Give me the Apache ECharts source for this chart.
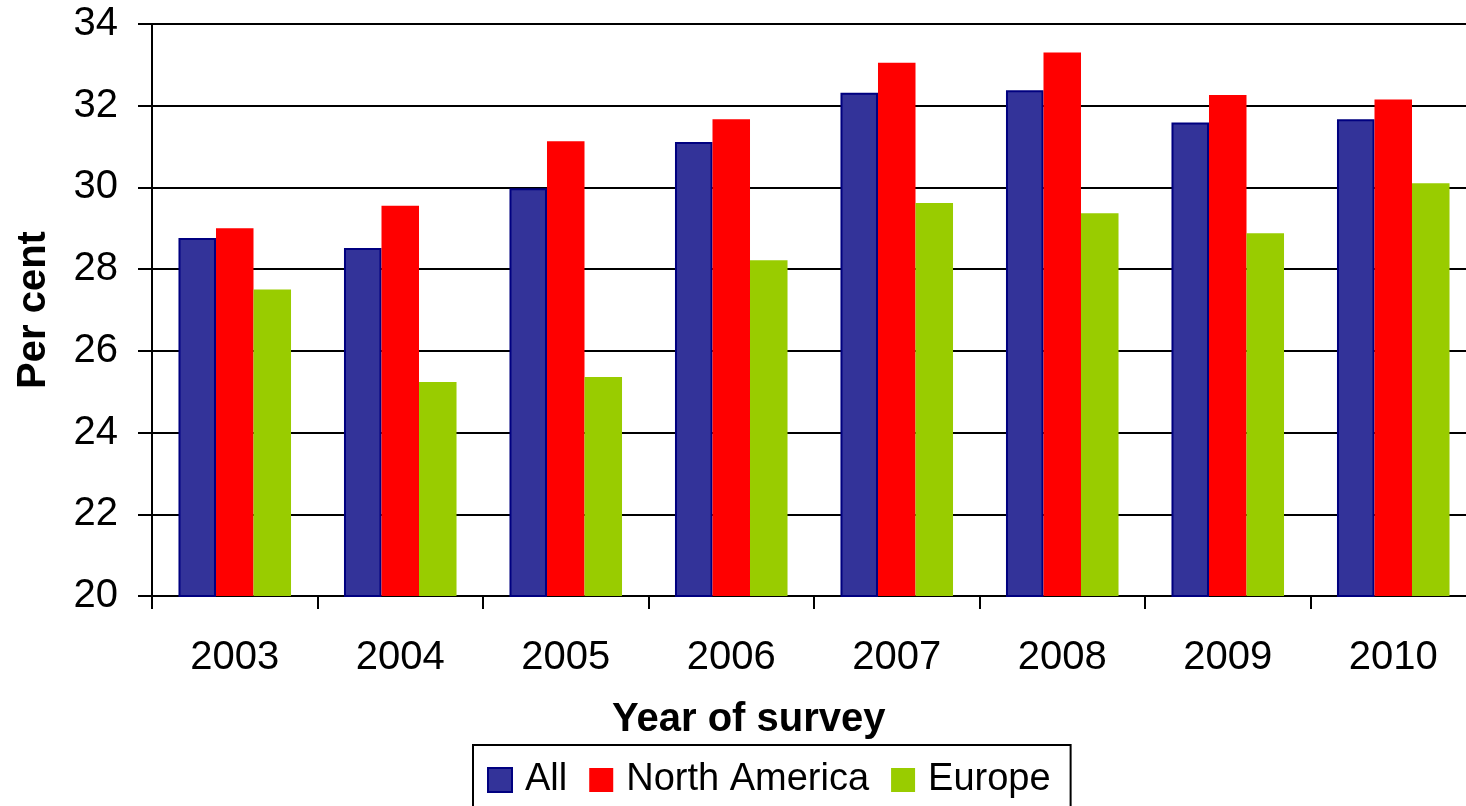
<!DOCTYPE html>
<html>
<head>
<meta charset="utf-8">
<title>Year of survey</title>
<script src="https://cdn.jsdelivr.net/npm/echarts@6/dist/echarts.min.js"></script>
<style>
  html, body { margin: 0; padding: 0; background: #fff; overflow: hidden; }
  /* plot runs past the right edge of the window, like the original */
  #chart { width: 1480px; height: 806px; }
</style>
</head>
<body>
<div id="chart"></div>
<script>
// survey data
var years = ['2003', '2004', '2005', '2006', '2007', '2008', '2009', '2010'];
var allValues = [28.76, 28.52, 29.98, 31.11, 32.32, 32.38, 31.59, 31.67];
var northAmerica = [29.0, 29.55, 31.13, 31.67, 33.05, 33.3, 32.26, 32.15];
var europe = [27.5, 25.24, 25.36, 28.22, 29.62, 29.37, 28.88, 30.1];

var font = 'Liberation Sans, Arial, sans-serif';

var myChart = echarts.init(document.getElementById('chart'));

var option = {
    animation: false,
    backgroundColor: '#fff',
    title: {
        text: 'Year of survey',
        left: 612,
        top: 700,
        padding: 0,
        textStyle: { fontFamily: font, fontSize: 40, fontWeight: 'bold', color: '#000' }
    },
    legend: {
        left: 473,
        top: 745,
        padding: [16, 20, 22, 14],
        itemGap: 22,
        itemWidth: 24,
        itemHeight: 24,
        icon: 'rect',
        borderColor: '#000',
        borderWidth: 2,
        borderRadius: 0,
        textStyle: { fontFamily: font, fontSize: 38, color: '#000', padding: [0, 0, 0, 8] },
        data: ['All', 'North America', 'Europe']
    },
    grid: {
        left: 152,
        top: 24,
        right: 4,
        height: 572,
        containLabel: false
    },
    xAxis: {
        type: 'category',
        data: years,
        axisLine: { lineStyle: { color: '#000', width: 2 } },
        axisTick: { show: true, length: 13, lineStyle: { color: '#000', width: 2 } },
        axisLabel: { fontFamily: font, fontSize: 40, color: '#000', margin: 42 }
    },
    yAxis: {
        type: 'value',
        min: 20,
        max: 34,
        interval: 2,
        name: 'Per cent',
        nameLocation: 'middle',
        nameRotate: 90,
        nameGap: 98,
        nameTextStyle: { fontFamily: font, fontSize: 40, fontWeight: 'bold', color: '#000' },
        axisLine: { show: true, lineStyle: { color: '#000', width: 2 } },
        axisTick: { show: true, length: 14, lineStyle: { color: '#000', width: 2 } },
        axisLabel: { fontFamily: font, fontSize: 40, color: '#000', margin: 34 },
        splitLine: { show: true, lineStyle: { color: '#000', width: 2 } }
    },
    series: [
        {
            name: 'All',
            type: 'bar',
            data: allValues,
            barGap: '0%',
            barCategoryGap: '32%',
            itemStyle: { color: '#333399', borderColor: '#000080', borderWidth: 2 }
        },
        {
            name: 'North America',
            type: 'bar',
            data: northAmerica,
            barGap: '0%',
            barCategoryGap: '32%',
            itemStyle: { color: '#ff0000' }
        },
        {
            name: 'Europe',
            type: 'bar',
            data: europe,
            barGap: '0%',
            barCategoryGap: '32%',
            itemStyle: { color: '#99cc00' }
        }
    ]
};

myChart.setOption(option);
</script>
</body>
</html>
